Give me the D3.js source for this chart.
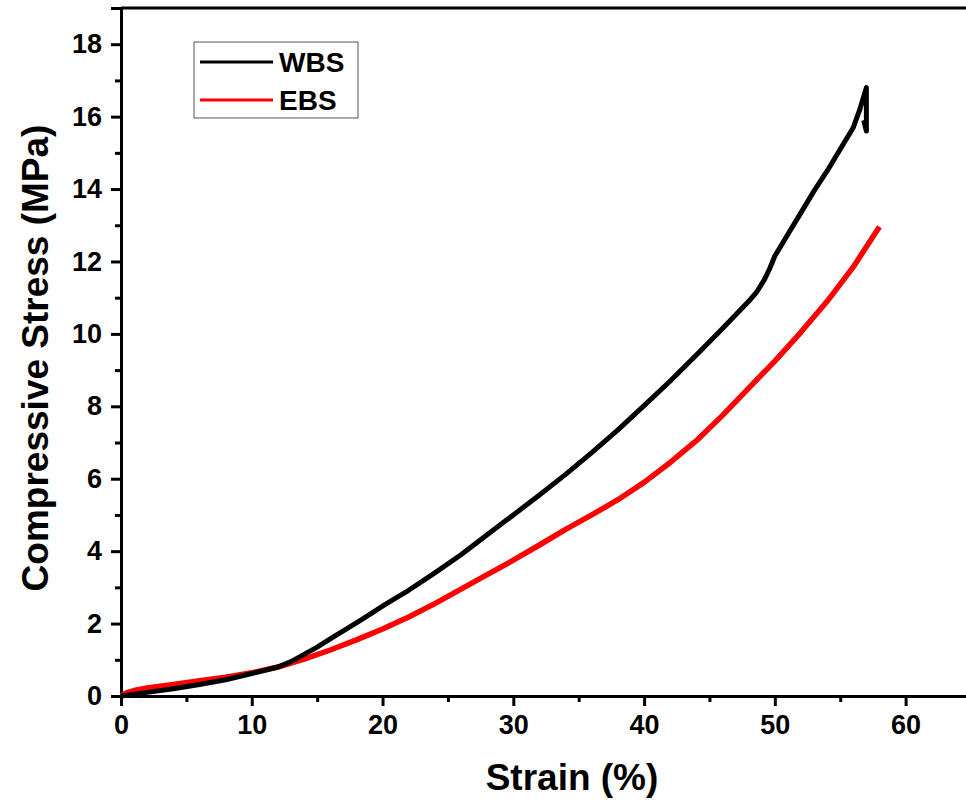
<!DOCTYPE html>
<html>
<head>
<meta charset="utf-8">
<title>Compressive stress-strain</title>
<script src="https://d3js.org/d3.v7.min.js"></script>
<style>
  body { margin: 0; background: #fff; }
  svg text { font-family: "Liberation Sans", Arial, sans-serif; font-weight: bold; fill: #000; }
</style>
</head>
<body>
<div id="chart"></div>
<script>
// strain (%) / stress (MPa)
var wbsStrain = [0, 1, 2, 4, 6, 8, 10, 12, 13, 14, 15, 16, 17, 18, 19, 20, 21, 22, 24, 26, 28, 30, 32, 34, 36, 38, 40, 42, 44, 46, 48, 48.6, 49.2, 49.6, 50, 51, 52, 53, 54, 55, 56, 56.5, 57, 57, 56.8];
var wbsStress = [0, 0.05, 0.1, 0.2, 0.32, 0.45, 0.62, 0.8, 0.95, 1.15, 1.35, 1.58, 1.8, 2.02, 2.25, 2.48, 2.7, 2.92, 3.4, 3.9, 4.45, 5.0, 5.55, 6.12, 6.72, 7.35, 8.02, 8.7, 9.42, 10.15, 10.9, 11.15, 11.5, 11.8, 12.15, 12.75, 13.35, 13.95, 14.5, 15.1, 15.7, 16.2, 16.8, 15.6, 15.9];
var ebsStrain = [0, 0.5, 1, 2, 4, 6, 8, 10, 12, 14, 16, 18, 20, 22, 24, 26, 28, 30, 32, 34, 36, 38, 40, 42, 44, 46, 48, 50, 52, 54, 56, 58];
var ebsStress = [0, 0.1, 0.15, 0.22, 0.32, 0.42, 0.52, 0.64, 0.8, 1.02, 1.27, 1.55, 1.85, 2.18, 2.55, 2.95, 3.35, 3.75, 4.17, 4.6, 5.0, 5.42, 5.9, 6.45, 7.05, 7.75, 8.5, 9.25, 10.05, 10.9, 11.85, 12.96];

var xTicks = [0, 10, 20, 30, 40, 50, 60];
var yTicks = [0, 2, 4, 6, 8, 10, 12, 14, 16, 18];
var seriesNames = ["WBS", "EBS"];
var seriesColors = ["#000000", "#ff0000"];

var W = 966, H = 804;
var margin = {top: 8, left: 121, bottom: 108};
var plotH = H - margin.top - margin.bottom;

var svg = d3.select("#chart").append("svg")
    .attr("width", W).attr("height", H);

var x = d3.scaleLinear().domain([0, 65]).range([margin.left, margin.left + 850]);
var y = d3.scaleLinear().domain([0, 19]).range([margin.top + plotH, margin.top]);

// x axis
svg.append("g")
    .attr("transform", "translate(0," + y(0) + ")")
    .call(d3.axisBottom(x).tickValues(xTicks).tickSize(10).tickPadding(9).tickFormat(d3.format("d")));
svg.append("g")
    .attr("transform", "translate(0," + y(0) + ")")
    .call(d3.axisBottom(x).tickValues([5, 15, 25, 35, 45, 55]).tickSize(6).tickFormat(""))
    .select(".domain").remove();

// y axis
svg.append("g")
    .attr("transform", "translate(" + x(0) + ",0)")
    .call(d3.axisLeft(y).tickValues(yTicks).tickSize(10).tickPadding(9).tickFormat(d3.format("d")));
svg.append("g")
    .attr("transform", "translate(" + x(0) + ",0)")
    .call(d3.axisLeft(y).tickValues([1, 3, 5, 7, 9, 11, 13, 15, 17]).tickSize(6).tickFormat(""))
    .select(".domain").remove();

svg.selectAll(".domain, .tick line").attr("stroke", "#000").attr("stroke-width", 3);
svg.selectAll(".tick text")
    .attr("font-size", null).attr("font-family", null)
    .style("font-size", "27px").style("font-weight", "bold").style("fill", "#000");

// top frame line
svg.append("line")
    .attr("x1", x(0)).attr("x2", x(65))
    .attr("y1", y(19)).attr("y2", y(19))
    .attr("stroke", "#000").attr("stroke-width", 3);

// axis titles
svg.append("text")
    .attr("x", 572).attr("y", 790)
    .attr("text-anchor", "middle")
    .style("font-size", "37px")
    .text("Strain (%)");
svg.append("text")
    .attr("transform", "translate(48,358) rotate(-90)")
    .attr("text-anchor", "middle")
    .style("font-size", "37px")
    .text("Compressive Stress (MPa)");

// curves
var line = d3.line().x(function(d) { return x(d[0]); }).y(function(d) { return y(d[1]); });
var series = [d3.zip(wbsStrain, wbsStress), d3.zip(ebsStrain, ebsStress)];

svg.append("path").datum(series[1])
    .attr("fill", "none").attr("stroke", seriesColors[1]).attr("stroke-width", 5.5)
    .attr("stroke-linejoin", "round").attr("d", line);
svg.append("path").datum(series[0])
    .attr("fill", "none").attr("stroke", seriesColors[0]).attr("stroke-width", 5)
    .attr("stroke-linejoin", "round").attr("d", line);

// legend
var lg = svg.append("g").attr("transform", "translate(194,42)");
lg.append("rect").attr("width", 164).attr("height", 76)
    .attr("fill", "#fff").attr("stroke", "#555").attr("stroke-width", 1);
seriesNames.forEach(function(name, i) {
    var yy = 20 + i * 38;
    lg.append("line").attr("x1", 6).attr("x2", 79).attr("y1", yy).attr("y2", yy)
        .attr("stroke", seriesColors[i]).attr("stroke-width", 3);
    lg.append("text").attr("x", 85).attr("y", yy + 10)
        .style("font-size", "28px").text(name);
});
</script>
</body>
</html>
